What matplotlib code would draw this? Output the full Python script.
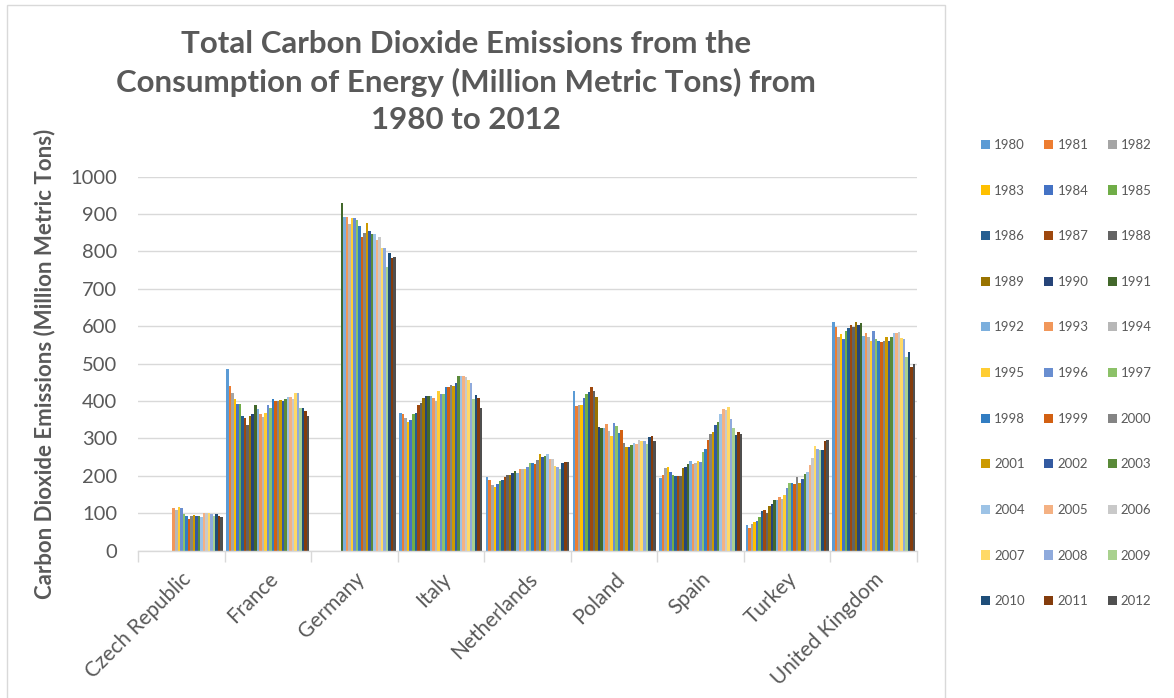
import numpy as np
import matplotlib.pyplot as plt
from matplotlib.patches import Rectangle

plt.rcParams['font.family'] = ['Lato', 'DejaVu Sans']

years = list(range(1980, 2013))
countries = ['Czech Republic', 'France', 'Germany', 'Italy', 'Netherlands',
             'Poland', 'Spain', 'Turkey', 'United Kingdom']

# million metric tons, one value per year 1980..2012 (None = no data)
czech = [None] * 13 + [115, 109, 116, 114, 98, 93, 86, 93, 96, 93,
                       93, 90, 100, 102, 101, 98, 94, 97, 93, 90]
france = [486, 441, 421, 406, 392, 392, 361, 354, 337, 361, 365, 389, 378,
          365, 358, 368, 389, 381, 406, 399, 399, 403, 399, 406, 410, 410,
          406, 421, 421, 381, 381, 372, 361]
germany = [None] * 11 + [929, 892, 892, 872, 888, 888, 885, 868, 837, 850,
                         875, 854, 847, 847, 830, 837, 809, 809, 757, 795,
                         781, 784]
italy = [368, 364, 354, 344, 348, 364, 368, 389, 395, 409, 413, 413, 413,
         409, 399, 426, 420, 420, 437, 437, 444, 440, 447, 468, 468, 468,
         464, 457, 447, 406, 416, 409, 381]
netherlands = [197, 190, 176, 170, 179, 186, 190, 197, 201, 201, 208, 214,
               208, 217, 217, 217, 225, 234, 234, 232, 242, 259, 250, 252,
               259, 245, 245, 227, 225, 217, 235, 237, 238]
poland = [428, 388, 390, 390, 407, 420, 425, 438, 427, 410, 331, 328, 328,
          338, 320, 306, 340, 334, 314, 323, 289, 277, 277, 282, 289, 286,
          296, 292, 292, 286, 304, 307, 292]
spain = [193, 202, 220, 224, 210, 202, 200, 200, 200, 220, 224, 233, 240,
         231, 234, 240, 237, 265, 272, 296, 313, 318, 335, 344, 366, 379,
         375, 385, 352, 327, 310, 318, 312]
turkey = [68, 60, 71, 77, 80, 91, 105, 108, 102, 119, 126, 136, 136, 144,
          138, 150, 168, 181, 181, 178, 198, 181, 192, 205, 209, 229, 247,
          279, 271, 269, 269, 292, 296]
uk = [612, 597, 572, 578, 565, 588, 595, 604, 598, 611, 603, 609, 575, 582,
      572, 561, 588, 565, 561, 558, 561, 572, 561, 571, 582, 582, 585, 568,
      565, 518, 531, 490, 500]

series = [czech, france, germany, italy, netherlands, poland, spain, turkey, uk]

colors = ['#5B9BD5', '#ED7D31', '#A5A5A5', '#FFC000', '#4472C4', '#70AD47',
          '#255E91', '#9E480E', '#636363', '#997300', '#264478', '#43682B',
          '#7CAFDD', '#F1975A', '#B7B7B7', '#FFCD33', '#698ED0', '#8CC168',
          '#327DC2', '#D26012', '#848484', '#CC9A00', '#335AA1', '#5A8A39',
          '#9DC3E6', '#F4B183', '#C9C9C9', '#FFD966', '#8FAADC', '#A9D18E',
          '#1F4E79', '#843C0C', '#4F4F4F']

text_color = '#595959'

fig = plt.figure(figsize=(11.74, 6.98), dpi=100)
ax = fig.add_axes([138 / 1174, 1 - 550.7 / 698, 779 / 1174, 374.2 / 698])

values = np.array([[np.nan if v is None else v for v in s] for s in series])
n_years = len(years)
group = 0.96
width = group / n_years
x = np.arange(len(countries))

handles = []
for i, yr in enumerate(years):
    offs = -group / 2 + (i + 0.5) * width
    h = ax.bar(x + offs, values[:, i], width, color=colors[i], label=str(yr),
               linewidth=0)
    handles.append(h)

ax.set_xlim(-0.5, len(countries) - 0.5)
ax.set_ylim(0, 1000)
ax.set_yticks(np.arange(0, 1001, 100))
ax.yaxis.grid(True, color='#D9D9D9', linewidth=1)
ax.set_axisbelow(True)
for side in ['top', 'right', 'left']:
    ax.spines[side].set_visible(False)
ax.spines['bottom'].set_color('#D9D9D9')
ax.spines['bottom'].set_linewidth(1)

ax.set_xticks(x)
ax.set_xticklabels(countries, rotation=45, ha='right', rotation_mode='anchor')
ax.set_xticks(np.arange(-0.5, len(countries)), minor=True)
ax.tick_params(axis='x', which='major', length=0, pad=13, labelsize=15,
               labelcolor=text_color)
ax.tick_params(axis='x', which='minor', length=8, color='#D9D9D9', width=1)
ax.tick_params(axis='y', length=0, pad=15, labelsize=14.5, labelcolor=text_color)

ax.set_ylabel('Carbon Dioxide Emissions (Million Metric Tons)', fontsize=16,
              fontweight='bold', color=text_color, labelpad=11)

fig.text(466 / 1174, 1 - 82 / 698,
         'Total Carbon Dioxide Emissions from the\n'
         'Consumption of Energy (Million Metric Tons) from\n1980 to 2012',
         ha='center', va='center', fontsize=22.5, fontweight='bold',
         color=text_color, linespacing=1.4)

# chart border
fig.patches.append(Rectangle((7 / 1174, -0.01), 938 / 1174, 1 - 5 / 698 + 0.01,
                             transform=fig.transFigure, fill=False,
                             edgecolor='#D9D9D9', linewidth=1))

# legend filled row by row: 1980 1981 1982 / 1983 ...
ncol = 3
nrow = int(np.ceil(n_years / ncol))
order = [r * ncol + c for c in range(ncol) for r in range(nrow) if r * ncol + c < n_years]
leg = fig.legend([handles[k] for k in order], [str(years[k]) for k in order],
                 ncol=ncol, loc='upper left', bbox_to_anchor=(969 / 1174, 1 - 127 / 698),
                 frameon=False, fontsize=9.5, labelspacing=2.55, columnspacing=1.45,
                 handlelength=0.7, handleheight=0.7, handletextpad=0.3,
                 labelcolor=text_color)

fig.savefig('out.png', dpi=100)
